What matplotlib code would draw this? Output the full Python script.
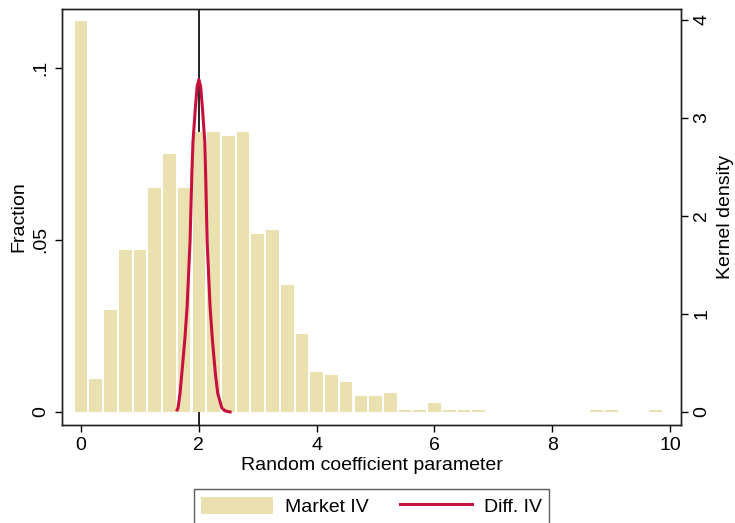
import numpy as np
import matplotlib
matplotlib.use("Agg")
import matplotlib.pyplot as plt
from matplotlib.ticker import FuncFormatter

plt.rcParams["font.family"] = ["Liberation Sans", "DejaVu Sans"]
plt.rcParams["font.size"] = 14

# ── Data ──────────────────────────────────────────────────────────────────────
# Histogram of market IV estimates, bin width 0.25, fraction per bin
bin_centers = [0.0, 0.25, 0.5, 0.75, 1.0, 1.25, 1.5, 1.75, 2.0, 2.25, 2.5, 2.75,
               3.0, 3.25, 3.5, 3.75, 4.0, 4.25, 4.5, 4.75, 5.0, 5.25, 5.5, 5.75,
               6.0, 6.25, 6.5, 6.75, 8.75, 9.0, 9.75]
fractions = [0.1134, 0.0096, 0.0297, 0.0469, 0.0469, 0.0650, 0.0750, 0.0650,
             0.0812, 0.0812, 0.0801, 0.0812, 0.0518, 0.0529, 0.0368, 0.0227,
             0.0116, 0.0106, 0.0086, 0.0047, 0.0047, 0.0056, 0.0006, 0.0006,
             0.0026, 0.0006, 0.0006, 0.0006, 0.0006, 0.0006, 0.0006]
BAR_W = 0.215   # drawn width inside 0.25 bins (white gaps between bars)

# Kernel density of differentiation IV estimates
kd_x = [1.63, 1.645, 1.68, 1.71, 1.76, 1.80, 1.85, 1.88, 1.90, 1.94, 1.97,
        2.00, 2.03, 2.06, 2.10, 2.115, 2.14, 2.19, 2.23, 2.28, 2.32, 2.39,
        2.45, 2.53]
kd_y = [0.02, 0.04, 0.19, 0.39, 0.73, 1.07, 1.74, 2.42, 2.76, 3.10, 3.32,
        3.39, 3.32, 3.10, 2.76, 2.42, 1.74, 1.07, 0.73, 0.39, 0.19, 0.04,
        0.01, 0.0]

TRUE_VALUE = 2.0

BAR_COLOR = "#ebe1b0"
KD_COLOR = "#c8103e"

# ── Figure ────────────────────────────────────────────────────────────────────
fig = plt.figure(figsize=(7.35, 5.23), dpi=100)
ax = fig.add_axes([62 / 735, 98 / 523, 619 / 735, 416 / 523])

ax.axvline(TRUE_VALUE, color="black", lw=1.2, zorder=0)
ax.bar(bin_centers, fractions, width=BAR_W, color=BAR_COLOR,
       linewidth=0, zorder=1, label="Market IV")

ax.set_xlim(-0.324, 10.185)
ax.set_ylim(-0.0038, 0.117)
ax.set_xticks([0, 2, 4, 6, 8, 10])
ax.set_yticks([0, 0.05, 0.1])
ax.yaxis.set_major_formatter(FuncFormatter(
    lambda v, p: "0" if v == 0 else f"{v:g}".lstrip("0")))
ax.set_xlabel("Random coefficient parameter", labelpad=2)
ax.set_ylabel("Fraction", labelpad=4)

ax2 = ax.twinx()
ax2.plot(kd_x, kd_y, color=KD_COLOR, lw=2.2, label="Diff. IV")
ax2.set_ylim(-0.133, 4.11)
ax2.set_yticks([0, 1, 2, 3, 4])
ax2.set_ylabel("Kernel density", labelpad=5)

for a in (ax, ax2):
    a.tick_params(direction="out", length=5, width=1, pad=4)
    for s in a.spines.values():
        s.set_linewidth(1.0)
        s.set_color("#222222")
ax.tick_params(axis="y", labelrotation=90)
ax2.tick_params(axis="y", labelrotation=90)
for lbl in ax.get_yticklabels() + ax2.get_yticklabels():
    lbl.set_va("center")

# ── Legend below the plot ─────────────────────────────────────────────────────
h1, l1 = ax.get_legend_handles_labels()
h2, l2 = ax2.get_legend_handles_labels()
leg = fig.legend(h1 + h2, l1 + l2, loc="upper center",
                 bbox_to_anchor=(371.5 / 735, 1 - 489 / 523), ncol=2,
                 frameon=True, fancybox=False, edgecolor="#333333",
                 handlelength=3.7, handleheight=0.95, columnspacing=1.6,
                 borderpad=0.4, borderaxespad=0, handletextpad=0.6,
                 fontsize=14)
leg.get_frame().set_linewidth(1.0)

fig.savefig("out.png", dpi=100)
